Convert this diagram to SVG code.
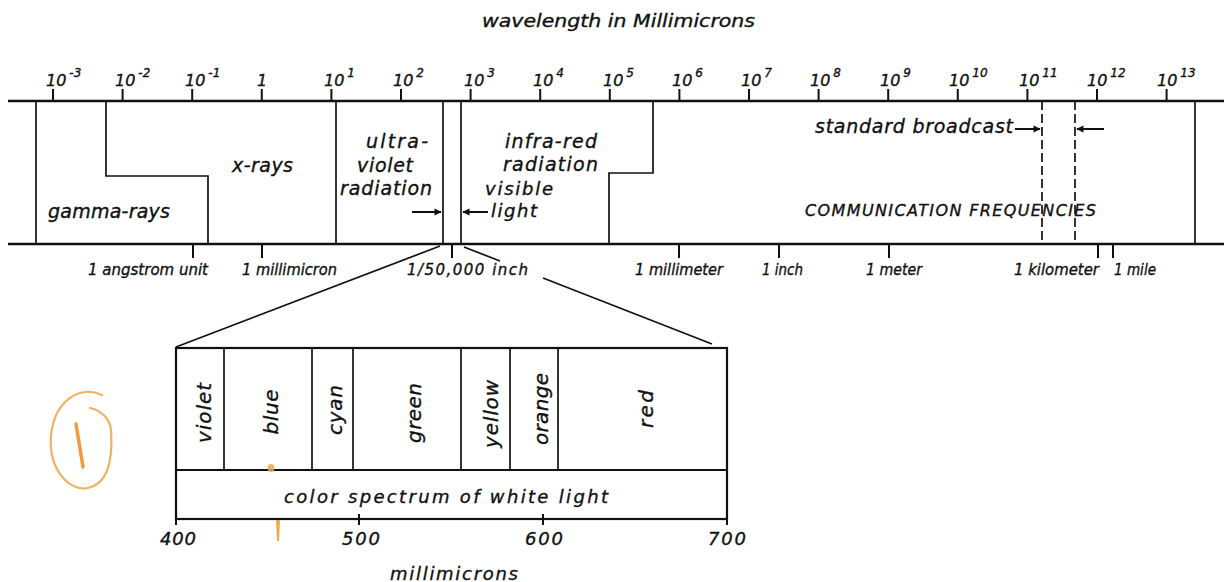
<svg xmlns="http://www.w3.org/2000/svg" width="1224" height="582" viewBox="0 0 1224 582">
<defs>
<style>
text{font-family:"DejaVu Sans","Liberation Sans",sans-serif;font-style:italic;fill:#111;stroke:#111;stroke-width:0.35}
.t{font-size:18px}
.lb{font-size:19px}
.lb2{font-size:18px}
.sm{font-size:15px}
.tk{font-size:16px}
.sup{font-size:12px}
.cap{font-size:16px}
.rot{font-size:20px;text-anchor:middle;dominant-baseline:central}
.ax{stroke:#111;stroke-width:2.4;fill:none}
.bd{stroke:#111;stroke-width:1.7;fill:none}
.dash{stroke:#111;stroke-width:1.7;fill:none;stroke-dasharray:9 4}
.tick{stroke:#111;stroke-width:2;fill:none}
.con{stroke:#111;stroke-width:1.7;fill:none}
.arr{stroke:#111;stroke-width:2;fill:none;marker-end:url(#ah)}
.box{stroke:#111;stroke-width:2.2;fill:none}
.or{stroke:#f3b062;stroke-width:2.2;fill:none;stroke-linecap:round}
</style>
<marker id="ah" viewBox="0 0 10 10" refX="9" refY="5" markerWidth="5" markerHeight="3.6" orient="auto" markerUnits="strokeWidth">
<path d="M0,0 L10,5 L0,10 z" fill="#111"/>
</marker>
</defs>
<rect width="1224" height="582" fill="#fff"/>

<g id="title">
<text class="t" x="482" y="27" textLength="273" lengthAdjust="spacingAndGlyphs">wavelength in Millimicrons</text>
</g>

<g id="axis">
<line class="ax" x1="8" y1="101" x2="1224" y2="101"/>
<line class="ax" x1="8" y1="244" x2="1224" y2="244"/>
<g class="tick">
<line x1="53" y1="89" x2="53" y2="101"/><line x1="122.6" y1="89" x2="122.6" y2="101"/><line x1="192.2" y1="89" x2="192.2" y2="101"/><line x1="261.8" y1="89" x2="261.8" y2="101"/><line x1="331.4" y1="89" x2="331.4" y2="101"/><line x1="401" y1="89" x2="401" y2="101"/><line x1="470.6" y1="89" x2="470.6" y2="101"/><line x1="540.2" y1="89" x2="540.2" y2="101"/><line x1="609.8" y1="89" x2="609.8" y2="101"/><line x1="679.4" y1="89" x2="679.4" y2="101"/><line x1="749" y1="89" x2="749" y2="101"/><line x1="818.6" y1="89" x2="818.6" y2="101"/><line x1="888.2" y1="89" x2="888.2" y2="101"/><line x1="957.8" y1="89" x2="957.8" y2="101"/><line x1="1027.4" y1="89" x2="1027.4" y2="101"/><line x1="1097" y1="89" x2="1097" y2="101"/><line x1="1166.6" y1="89" x2="1166.6" y2="101"/>
</g>
<g class="tk">
<text x="46" y="86">10<tspan class="sup" dx="3" dy="-9">-3</tspan></text>
<text x="115" y="86">10<tspan class="sup" dx="3" dy="-9">-2</tspan></text>
<text x="185" y="86">10<tspan class="sup" dx="3" dy="-9">-1</tspan></text>
<text x="262" y="86" text-anchor="middle">1</text>
<text x="324" y="86">10<tspan class="sup" dx="3" dy="-9">1</tspan></text>
<text x="393" y="86">10<tspan class="sup" dx="3" dy="-9">2</tspan></text>
<text x="464" y="86">10<tspan class="sup" dx="3" dy="-9">3</tspan></text>
<text x="533" y="86">10<tspan class="sup" dx="3" dy="-9">4</tspan></text>
<text x="603" y="86">10<tspan class="sup" dx="3" dy="-9">5</tspan></text>
<text x="672" y="86">10<tspan class="sup" dx="3" dy="-9">6</tspan></text>
<text x="741" y="86">10<tspan class="sup" dx="3" dy="-9">7</tspan></text>
<text x="810" y="86">10<tspan class="sup" dx="3" dy="-9">8</tspan></text>
<text x="880" y="86">10<tspan class="sup" dx="3" dy="-9">9</tspan></text>
<text x="949" y="86">10<tspan class="sup" dx="3" dy="-9">10</tspan></text>
<text x="1019" y="86">10<tspan class="sup" dx="3" dy="-9">11</tspan></text>
<text x="1087" y="86">10<tspan class="sup" dx="3" dy="-9">12</tspan></text>
<text x="1157" y="86">10<tspan class="sup" dx="3" dy="-9">13</tspan></text>
</g>
<g class="tick">
<line x1="193" y1="244" x2="193" y2="258"/><line x1="262" y1="244" x2="262" y2="258"/><line x1="452" y1="244" x2="452" y2="258"/><line x1="679" y1="244" x2="679" y2="258"/><line x1="779" y1="244" x2="779" y2="258"/><line x1="889" y1="244" x2="889" y2="258"/><line x1="1098" y1="244" x2="1098" y2="258"/><line x1="1113" y1="244" x2="1113" y2="258"/>
</g>
<g class="sm">
<text x="88" y="275" textLength="120" lengthAdjust="spacingAndGlyphs">1 angstrom unit</text>
<text x="242" y="275" textLength="95" lengthAdjust="spacingAndGlyphs">1 millimicron</text>
<text x="407" y="275" textLength="121">1/50,000 inch</text>
<text x="635" y="275" textLength="88" lengthAdjust="spacingAndGlyphs">1 millimeter</text>
<text x="762" y="275" textLength="41" lengthAdjust="spacingAndGlyphs">1 inch</text>
<text x="866" y="275" textLength="56" lengthAdjust="spacingAndGlyphs">1 meter</text>
<text x="1014" y="275" textLength="85" lengthAdjust="spacingAndGlyphs">1 kilometer</text>
<text x="1114" y="275" textLength="42" lengthAdjust="spacingAndGlyphs">1 mile</text>
</g>
</g>

<g id="gamma-rays">
<line class="bd" x1="36" y1="101" x2="36" y2="244"/>
<text class="lb" x="48" y="218" textLength="122">gamma-rays</text>
</g>
<g id="x-rays">
<polyline class="bd" points="106,101 106,176 208,176 208,244"/>
<text class="lb" x="232" y="172" textLength="61">x-rays</text>
</g>
<g id="ultraviolet">
<line class="bd" x1="336" y1="101" x2="336" y2="244"/>
<text class="lb" x="366" y="148" textLength="62">ultra-</text>
<text class="lb" x="357" y="172" textLength="56">violet</text>
<text class="lb" x="340" y="195" textLength="92">radiation</text>
</g>
<g id="visible-light">
<line class="bd" x1="443" y1="101" x2="443" y2="244"/>
<line class="bd" x1="461" y1="101" x2="461" y2="244"/>
<text class="lb2" x="485" y="195" textLength="68">visible</text>
<text class="lb2" x="491" y="217" textLength="46">light</text>
</g>
<g id="infra-red">
<polyline class="bd" points="653,101 653,173 609,173 609,244"/>
<text class="lb" x="505" y="148" textLength="92">infra-red</text>
<text class="lb" x="503" y="171" textLength="95">radiation</text>
</g>
<g id="standard-broadcast">
<line class="dash" x1="1042" y1="101" x2="1042" y2="244"/>
<line class="dash" x1="1075" y1="101" x2="1075" y2="244"/>
<text class="lb" x="815" y="133" textLength="198">standard broadcast</text>
</g>
<g id="communication">
<line class="bd" x1="1195" y1="101" x2="1195" y2="244"/>
<text class="cap" x="805" y="216" textLength="291">COMMUNICATION FREQUENCIES</text>
</g>

<g id="connectors">
<line class="arr" x1="412" y1="212" x2="441" y2="212"/>
<line class="arr" x1="488" y1="212" x2="463" y2="212"/>
<line class="arr" x1="1015" y1="129" x2="1040" y2="129"/>
<line class="arr" x1="1104" y1="129" x2="1077" y2="129"/>
<line class="con" x1="176" y1="347" x2="440" y2="246"/>
<line class="con" x1="464" y1="247" x2="500" y2="261"/>
<line class="con" x1="543" y1="278" x2="712" y2="344"/>
</g>

<g id="spectrum">
<rect class="box" x="176" y="348" width="551" height="171"/>
<line class="box" x1="176" y1="470" x2="727" y2="470"/>
<g class="bd">
<line x1="224" y1="348" x2="224" y2="470"/><line x1="312" y1="348" x2="312" y2="470"/><line x1="353" y1="348" x2="353" y2="470"/><line x1="461" y1="348" x2="461" y2="470"/><line x1="510" y1="348" x2="510" y2="470"/><line x1="558" y1="348" x2="558" y2="470"/>
</g>
<g id="violet"><text class="rot" transform="translate(204,413) rotate(-90)" textLength="60">violet</text></g>
<g id="blue"><text class="rot" transform="translate(271,412) rotate(-90)" textLength="45">blue</text></g>
<g id="cyan"><text class="rot" transform="translate(335,410) rotate(-90)" textLength="50">cyan</text></g>
<g id="green"><text class="rot" transform="translate(414,413) rotate(-90)" textLength="60">green</text></g>
<g id="yellow"><text class="rot" transform="translate(491,414) rotate(-90)" textLength="68">yellow</text></g>
<g id="orange"><text class="rot" transform="translate(541,409) rotate(-90)" textLength="72">orange</text></g>
<g id="red"><text class="rot" transform="translate(646,409) rotate(-90)" textLength="38">red</text></g>
<text class="t" x="284" y="503" textLength="324">color spectrum of white light</text>
<g class="tick">
<line x1="176" y1="514" x2="176" y2="525"/><line x1="359" y1="514" x2="359" y2="525"/><line x1="543" y1="514" x2="543" y2="525"/><line x1="727" y1="514" x2="727" y2="525"/>
</g>
<g class="t">
<text x="160" y="545" textLength="36">400</text>
<text x="342" y="545" textLength="38">500</text>
<text x="525" y="545" textLength="38">600</text>
<text x="708" y="545" textLength="38">700</text>
<text x="390" y="580" textLength="128">millimicrons</text>
</g>
</g>

<g id="annotation">
<path class="or" d="M102,395 C80,385 55,400 51,435 C48,470 70,492 88,488 C108,484 113,460 111,430 C110,418 100,410 90,408"/>
<line x1="76" y1="424" x2="83" y2="467" stroke="#f39a3a" stroke-width="3.5" stroke-linecap="round"/>
<ellipse cx="271" cy="468" rx="3.5" ry="4" fill="#e8a94e" opacity="0.85"/>
<path d="M276,520 L280,520 L279,541 L277,541 z" fill="#e8a23a" opacity="0.9"/>
</g>
</svg>
